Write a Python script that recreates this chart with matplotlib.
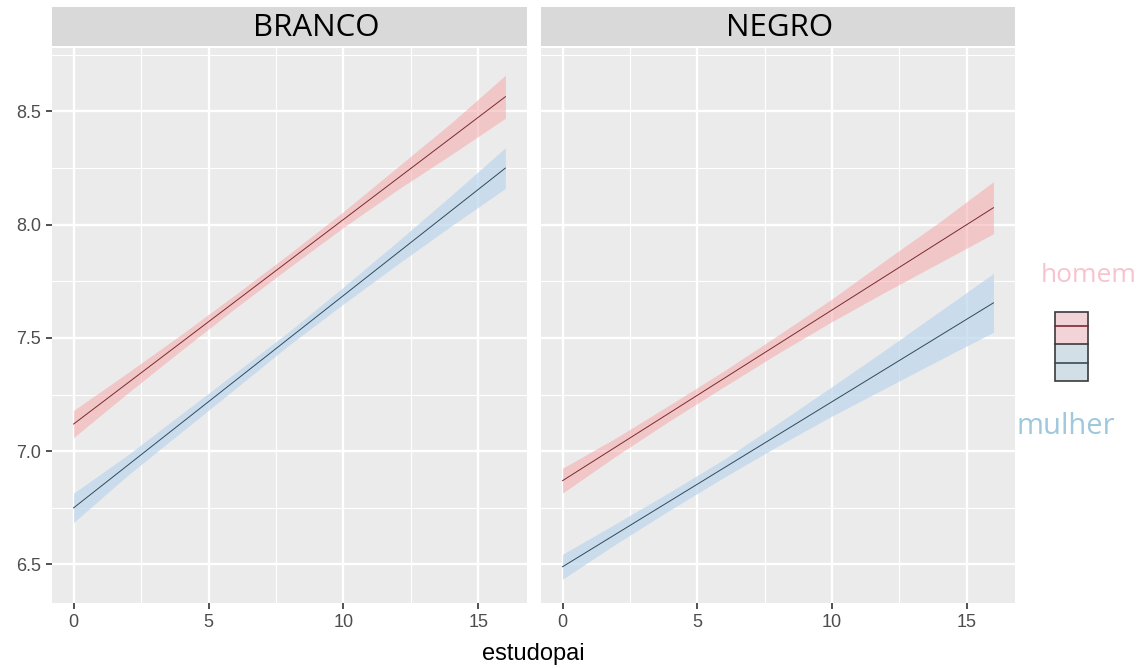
import matplotlib
matplotlib.use("Agg")
import matplotlib.pyplot as plt
from matplotlib.patches import Rectangle
from matplotlib.lines import Line2D

# dados (reta ajustada + faixa de confiança)
paineis = ["BRANCO", "NEGRO"]
x_reta = [0, 16]
reta_homem = {"BRANCO": [7.12, 8.565], "NEGRO": [6.87, 8.075]}
reta_mulher = {"BRANCO": [6.75, 8.25], "NEGRO": [6.49, 7.655]}

x_faixa = [0, 2, 4, 6, 8, 10, 12, 14, 16]
homem_lo = {"BRANCO": [7.06, 7.256, 7.446, 7.632, 7.812, 7.988, 8.154, 8.310, 8.47],
            "NEGRO": [6.815, 6.980, 7.136, 7.285, 7.432, 7.572, 7.704, 7.832, 7.96]}
homem_hi = {"BRANCO": [7.18, 7.346, 7.516, 7.692, 7.872, 8.058, 8.254, 8.450, 8.66],
            "NEGRO": [6.925, 7.060, 7.206, 7.355, 7.512, 7.672, 7.844, 8.012, 8.19]}
mulher_lo = {"BRANCO": [6.685, 6.893, 7.085, 7.277, 7.47, 7.650, 7.825, 7.995, 8.16],
             "NEGRO": [6.435, 6.592, 6.741, 6.885, 7.023, 7.155, 7.279, 7.403, 7.525]}
mulher_hi = {"BRANCO": [6.815, 6.983, 7.165, 7.347, 7.53, 7.725, 7.925, 8.130, 8.34],
             "NEGRO": [6.545, 6.682, 6.821, 6.965, 7.123, 7.285, 7.449, 7.617, 7.785]}

xticks = [0, 5, 10, 15]
yticks = [6.5, 7.0, 7.5, 8.0, 8.5]

W, H = 1138, 668
fig = plt.figure(figsize=(W/100, H/100), dpi=100)

def px(x0, y0, x1, y1):
    # caixa em pixels (topo-esquerda) -> fração da figura
    return [x0/W, 1 - y1/H, (x1-x0)/W, (y1-y0)/H]

caixas = [(52, 48, 527, 603), (541, 48, 1015, 603)]
centro_titulo = [316, 780]  # no original o título não está bem centrado
for i, (nome, (x0, y0, x1, y1)) in enumerate(zip(paineis, caixas)):
    ax = fig.add_axes(px(x0, y0, x1, y1))
    ax.set_facecolor("#ebebeb")
    for s in ax.spines.values():
        s.set_visible(False)
    ax.set_xlim(-0.8, 16.8); ax.set_ylim(6.33, 8.78)
    ax.set_xticks(xticks)
    ax.set_xticks([2.5, 7.5, 12.5], minor=True)
    ax.set_yticks(yticks)
    ax.set_yticks([6.75, 7.25, 7.75, 8.25, 8.75], minor=True)
    ax.grid(which="major", color="white", lw=1.7)
    ax.grid(which="minor", color="white", lw=0.8)
    ax.set_axisbelow(True)
    ax.tick_params(which="major", length=4, color="#333333", width=1.2,
                   labelsize=13, labelcolor="#4d4d4d", pad=4)
    ax.tick_params(which="minor", length=0)
    for lab in ax.get_xticklabels() + ax.get_yticklabels():
        lab.set_family("Liberation Sans")
    if i == 0:
        ax.set_yticklabels(["6.5", "7.0", "7.5", "8.0", "8.5"],
                           family="Liberation Sans")
    else:
        ax.tick_params(axis="y", which="major", length=0, labelleft=False)

    ax.fill_between(x_faixa, homem_lo[nome], homem_hi[nome],
                    color="#f7a8ab", alpha=0.55, lw=0)
    ax.fill_between(x_faixa, mulher_lo[nome], mulher_hi[nome],
                    color="#bcd6ec", alpha=0.7, lw=0)
    ax.plot(x_reta, reta_homem[nome], color="#7a2a30", lw=0.7)
    ax.plot(x_reta, reta_mulher[nome], color="#2e4a5c", lw=0.7)

    # faixa do título do painel
    sx = fig.add_axes(px(x0, 7, x1, 46))
    sx.set_facecolor("#d9d9d9")
    sx.set_xticks([]); sx.set_yticks([])
    for s in sx.spines.values():
        s.set_visible(False)
    fig.text(centro_titulo[i]/W, 1 - 28/H, nome, ha="center", va="center",
             fontsize=22.5, family="Open Sans", color="black")

fig.text(533/W, 1 - 654/H, "estudopai", ha="center", va="center",
         fontsize=17, color="black", family="Liberation Sans")

# legenda (desenhada à mão, como no original)
fig.text(1089/W, 1 - 276/H, "homem", ha="center", va="center",
         fontsize=19, color="#f7c3cd", family="Open Sans")
fig.text(1066/W, 1 - 427/H, "mulher", ha="center", va="center",
         fontsize=21, color="#9fc8dc", family="Open Sans")
fig.patches.append(Rectangle((1055/W, 1 - 344/H), 33/W, 32/H,
                             transform=fig.transFigure, facecolor="#f2d3d7",
                             edgecolor="none"))
fig.patches.append(Rectangle((1055/W, 1 - 381/H), 33/W, 37/H,
                             transform=fig.transFigure, facecolor="#d3dfe6",
                             edgecolor="none"))
fig.patches.append(Rectangle((1055/W, 1 - 381/H), 33/W, 69/H,
                             transform=fig.transFigure, facecolor="none",
                             edgecolor="#3a3a3a", lw=1.2))
for yy, cor in [(326, "#7a2a30"), (344, "#3a3a3a"), (363, "#3a4a55")]:
    fig.lines.append(Line2D([1055/W, 1088/W], [1 - yy/H, 1 - yy/H],
                            transform=fig.transFigure, color=cor, lw=1.2))

fig.savefig("out.png", dpi=100)
